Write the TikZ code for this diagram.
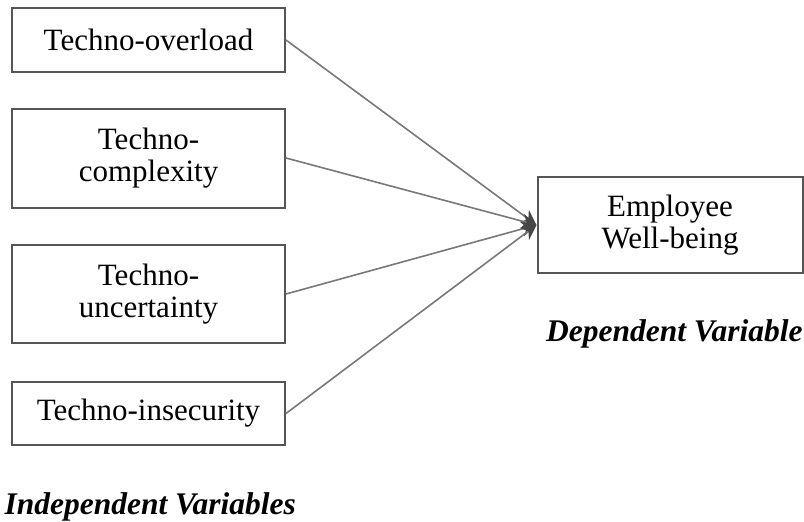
\documentclass[tikz,border=0pt]{standalone}
\usepackage{fontspec}
\setmainfont{Liberation Serif}
\usepackage{tikz}
\usetikzlibrary{positioning,
                arrows.meta}                % arrow tips

\definecolor{boxgray}{RGB}{85,85,85}
\definecolor{linegray}{RGB}{120,120,120}
\definecolor{tipgray}{RGB}{70,70,70}

\begin{document}
\begin{tikzpicture}[x=1pt, y=-1pt,
                varbox/.style={draw=boxgray, line width=2pt, minimum width=273pt,
                        align=center, inner sep=0pt, font=\fontsize{31}{32}\selectfont},
                link/.style={draw=linegray, line width=1.6pt,
                        -{Stealth[length=15pt, width=15pt, color=tipgray]}},
                varlabel/.style={font=\fontsize{31.5}{35}\selectfont\bfseries\itshape}]
                \useasboundingbox (0,0) rectangle (804,522);

                \node[varbox, minimum height=64pt] (overload) at (148.5,40) {Techno-overload};
                \node[varbox, minimum height=99pt] (complexity) at (148.5,158) {Techno-\\complexity};
                \node[varbox, minimum height=98pt] (uncertainty) at (148.5,294) {Techno-\\uncertainty};
                \node[varbox, minimum height=63pt] (insecurity) at (148.5,413.5) {Techno-insecurity};

                \node[varbox, minimum width=265pt, minimum height=96pt] (wellbeing) at (670,225) {Employee\\Well-being};

                \draw[link] (overload.east) -- (wellbeing.west);
                \draw[link] (complexity.east) -- (wellbeing.west);
                \draw[link] (uncertainty.east) -- (wellbeing.west);
                \draw[link] (insecurity.east) -- (wellbeing.west);

                \node[varlabel, anchor=base west] (indep) at (1,514) {Independent Variables};
                \node[varlabel, anchor=base east] (dep) at (806,341) {Dependent Variable};

        \end{tikzpicture}
\end{document}
